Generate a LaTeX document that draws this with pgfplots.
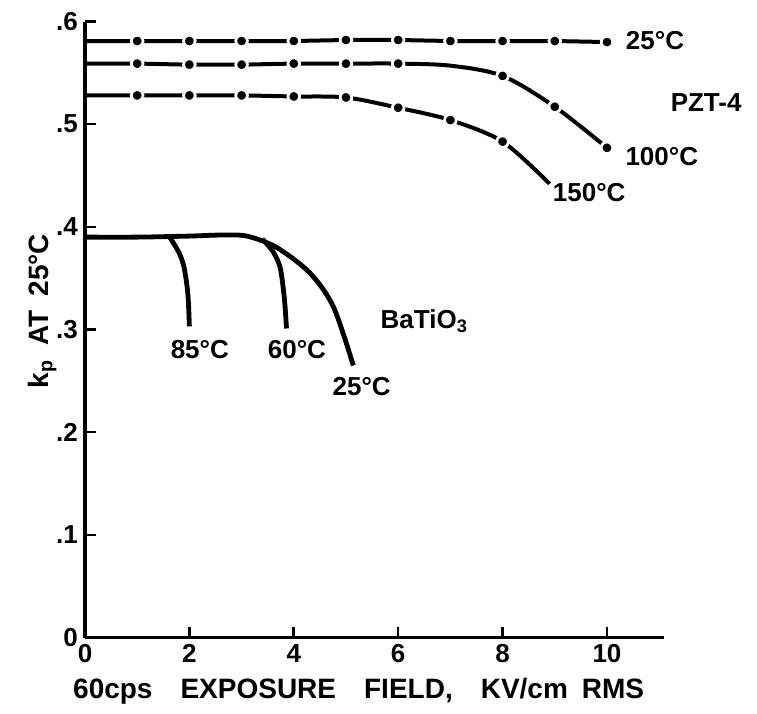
\documentclass[border=0pt]{standalone}
\usepackage{pgfplots}
\pgfplotsset{compat=1.18}
\usepackage{fontspec}
\setmainfont{Liberation Sans}
\begin{document}
\begin{tikzpicture}[font=\fontsize{13}{15}\selectfont\bfseries]
\begin{axis}[
  scale only axis, width=289.7pt, height=308pt,
  xmin=0, xmax=11.1, ymin=0, ymax=0.6,
  axis x line=bottom, axis y line=left,
  axis line style={-, line width=1.8pt},
  tick align=inside, major tick length=5.5pt,
  tick style={line width=1.3pt, black},
  xtick={0,2,4,6,8,10}, xticklabels={0,2,4,6,8,10},
  ytick={0,0.1,0.2,0.3,0.4,0.5,0.6}, yticklabels={0,.1,.2,.3,.4,.5,.6},
  xticklabel style={font=\fontsize{13}{15}\selectfont\bfseries},
  yticklabel style={font=\fontsize{13}{15}\selectfont\bfseries},
  xlabel={60cps\quad EXPOSURE\quad FIELD,\quad KV/cm\enspace RMS},
  ylabel={k\textsubscript{p}\enspace AT\enspace 25°C},
  xlabel style={font=\fontsize{14}{16}\selectfont\bfseries, xshift=-8pt},
  ylabel style={font=\fontsize{14}{16}\selectfont\bfseries},
  every axis y label/.append style={at={(ticklabel cs:0.53)}},
  ylabel shift=-7pt,
  xlabel shift=1pt,
  clip=false,
]
% PZT-4 25C
\addplot[black, line width=2pt, mark=*, mark size=2.9pt, mark indices={2,3,4,5,6,7,8,9,10,11},
  mark options={fill=black, draw=white, line width=1.4pt}]
  coordinates {(0,0.581)(1,0.581)(2,0.581)(3,0.581)(4,0.581)(5,0.582)(6,0.582)(7,0.581)(8,0.581)(9,0.581)(10,0.580)};
% PZT-4 100C
\addplot[black, line width=2pt, smooth, tension=0.5, mark=*, mark size=2.9pt, mark indices={2,3,4,5,6,7,9,10,11},
  mark options={fill=black, draw=white, line width=1.4pt}]
  coordinates {(0,0.559)(1,0.559)(2,0.558)(3,0.558)(4,0.559)(5,0.559)(6,0.559)(7,0.557)(8,0.547)(9,0.517)(10,0.477)};
% PZT-4 150C
\addplot[black, line width=2pt, smooth, tension=0.5, mark=*, mark size=2.9pt, mark indices={2,3,4,5,6,7,8,9},
  mark options={fill=black, draw=white, line width=1.4pt}]
  coordinates {(0,0.528)(1,0.528)(2,0.528)(3,0.528)(4,0.527)(5,0.526)(6,0.516)(7,0.504)(8,0.483)(8.9,0.442)};
% BaTiO3 25C
\addplot[black, line width=2.4pt, smooth, tension=0.5]
  coordinates {(0,0.390)(1,0.390)(2,0.391)(2.6,0.392)(3.1,0.391)(3.67,0.380)(4.31,0.355)(4.76,0.322)(5.14,0.265)};
% BaTiO3 85C
\addplot[black, line width=2.4pt, smooth, tension=0.5]
  coordinates {(1.62,0.390)(1.8,0.375)(1.9,0.360)(1.97,0.335)(2.0,0.303)};
% BaTiO3 60C
\addplot[black, line width=2.4pt, smooth, tension=0.5]
  coordinates {(3.4,0.388)(3.6,0.376)(3.74,0.360)(3.82,0.330)(3.86,0.301)};
\node at (axis cs:10.92,0.581) {25°C};
\node at (axis cs:11.9,0.521) {PZT-4};
\node at (axis cs:11.05,0.468) {100°C};
\node at (axis cs:9.66,0.433) {150°C};
\node at (axis cs:6.5,0.308) {BaTiO\textsubscript{3}};
\node at (axis cs:2.2,0.280) {85°C};
\node at (axis cs:4.06,0.280) {60°C};
\node at (axis cs:5.3,0.244) {25°C};
\end{axis}
\pgfresetboundingbox
\path (current axis.south west) ++(-42.5pt,-38.25pt) rectangle ++(378.5pt,357pt);
\end{tikzpicture}
\end{document}
